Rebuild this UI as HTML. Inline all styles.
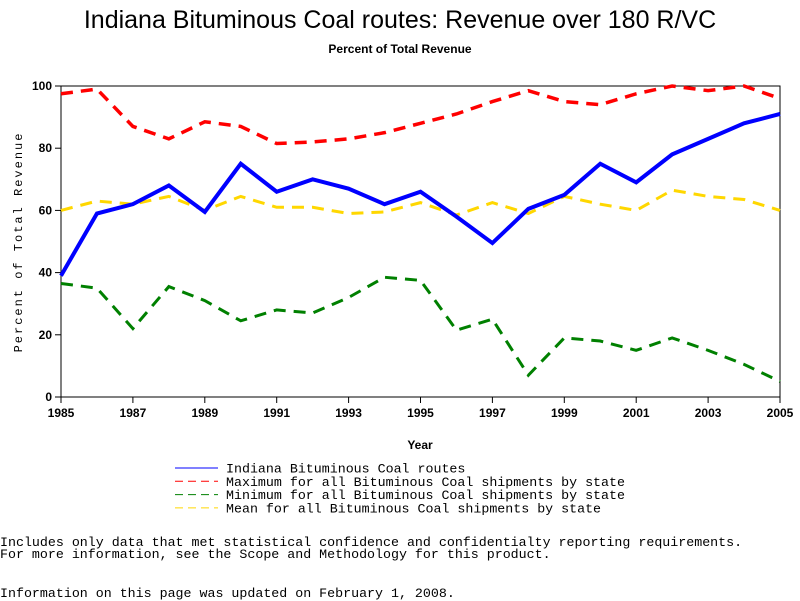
<!DOCTYPE html>
<html><head><meta charset="utf-8"><style>
body{margin:0;background:#fff;width:800px;height:600px;overflow:hidden;position:relative;font-family:"Liberation Sans",sans-serif}
.t{position:absolute;white-space:pre}
.mono{font-family:"Liberation Mono",monospace;font-size:13.3px}
</style></head><body>
<div class="t" style="left:0;width:800px;text-align:center;top:6px;font-size:25px">Indiana Bituminous Coal routes: Revenue over 180 R/VC</div>
<div class="t" style="left:0;width:800px;text-align:center;top:42px;font-size:12px;font-weight:bold">Percent of Total Revenue</div>
<svg id="chart" width="800" height="600" style="position:absolute;left:0;top:0"></svg>
<div class="t mono" style="left:0;top:535px">Includes only data that met statistical confidence and confidentialty reporting requirements.</div>
<div class="t mono" style="left:0;top:547px">For more information, see the Scope and Methodology for this product.</div>
<div class="t mono" style="left:0;top:586px">Information on this page was updated on February 1, 2008.</div>
<script>
const years=[1985,1986,1987,1988,1989,1990,1991,1992,1993,1994,1995,1996,1997,1998,1999,2000,2001,2002,2003,2004,2005];
const indiana=[39,59,62,68,59.5,75,66,70,67,62,66,58,49.5,60.5,65,75,69,78,83,88,91];
const maxState=[97.5,99,87,83,88.5,87,81.5,82,83,85,88,91,95,98.5,95,94,97.5,100,98.5,100,96];
const minState=[36.5,35,22,35.5,31,24.5,28,27,32,38.5,37.5,21.5,25,7,19,18,15,19,15,10.5,5];
const meanState=[60,63,62,64.5,60,64.5,61,61,59,59.5,62.5,58.5,62.5,59,64.5,62,60,66.5,64.5,63.5,60];
const yTicks=[0,20,40,60,80,100];
const xTicks=[1985,1987,1989,1991,1993,1995,1997,1999,2001,2003,2005];
const legendLabels=["Indiana Bituminous Coal routes","Maximum for all Bituminous Coal shipments by state","Minimum for all Bituminous Coal shipments by state","Mean for all Bituminous Coal shipments by state"];
const L=61,R=780,T=86,B=397;
const sx=y=>L+(y-1985)/(2005-1985)*(R-L);
const sy=v=>B-v/100*(B-T);
const svg=document.getElementById('chart');
const NS='http://www.w3.org/2000/svg';
function mk(tag,a){const e=document.createElementNS(NS,tag);for(const k in a)e.setAttribute(k,a[k]);svg.appendChild(e);return e;}
const frame=mk('rect',{x:L,y:T,width:R-L,height:B-T,fill:'none',stroke:'#000','stroke-width':1});


yTicks.forEach(v=>{
 const tk=mk('line',{x1:L-6,x2:L,y1:sy(v),y2:sy(v),stroke:'#000'});
 
 
 const t=mk('text',{x:L-9,y:sy(v)+4,'text-anchor':'end','font-size':12,'font-weight':'bold','font-family':'Liberation Sans,sans-serif'});
 t.textContent=v;
 
 
});
xTicks.forEach(v=>{
 const tk=mk('line',{x1:sx(v),x2:sx(v),y1:B,y2:B+6,stroke:'#000'});
 
 
 const t=mk('text',{x:sx(v),y:B+20,'text-anchor':'middle','font-size':12,'font-weight':'bold','font-family':'Liberation Sans,sans-serif'});
 t.textContent=v;
 
 
});
const xt=mk('text',{x:420,y:449,'text-anchor':'middle','font-size':12,'font-weight':'bold','font-family':'Liberation Sans,sans-serif'});
xt.textContent='Year';


const yt=mk('text',{x:22,y:242,'text-anchor':'middle','font-size':12,'letter-spacing':'2','font-family':'Liberation Mono,monospace',transform:'rotate(-90 22 242)'});
yt.textContent='Percent of Total Revenue';


const series=[[meanState,'#ffd700',3,'12 8','series-mean'],[minState,'#008000',3,'12 8','series-minimum'],[maxState,'#ff0000',3.5,'12 8','series-maximum'],[indiana,'#0000ff',4,'','series-indiana']];
series.forEach(s=>{
 const p=mk('polyline',{points:years.map((y,i)=>sx(y)+','+sy(s[0][i])).join(' '),fill:'none',stroke:s[1],'stroke-width':s[2],'stroke-dasharray':s[3],'stroke-linejoin':'miter'});
 
 
});
const legCols=['#0000ff','#ff0000','#008000','#ffd700'];
const legDash=['','8 5','8 5','8 5'];
legendLabels.forEach((lab,i)=>{
 const y=468+i*13.3;
 const ln=mk('line',{x1:175,x2:218,y1:y,y2:y,stroke:legCols[i],'stroke-width':1,'stroke-dasharray':legDash[i]});
 
 
 const t=mk('text',{x:226,y:y+4.5,'font-size':13.3,'font-family':'Liberation Mono,monospace'});
 t.textContent=lab;
 
 
});
</script>
</body></html>
